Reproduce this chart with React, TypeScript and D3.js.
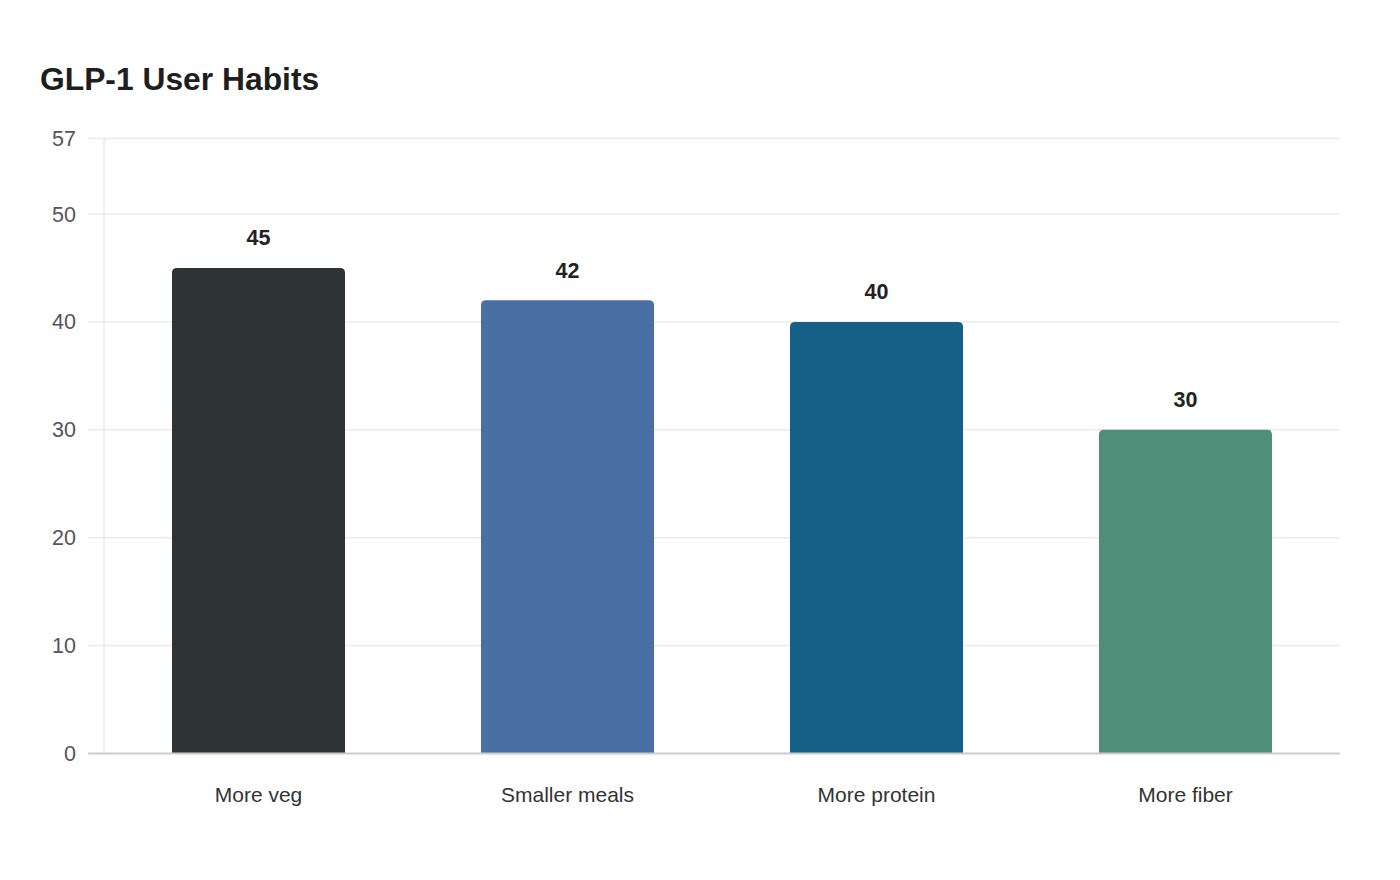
import React from 'react';
import * as d3 from 'd3';

const categories = ['More veg', 'Smaller meals', 'More protein', 'More fiber'];
const values = [45, 42, 40, 30];
const barColors = ['#2d3436', '#4a6fa5', '#166088', '#4f8f7a'];
const yTicks = [0, 10, 20, 30, 40, 50, 57];

const W = 1400;
const H = 880;
const margin = { top: 138.5, right: 60, bottom: 126.5, left: 104 };

const FONT = '"Liberation Sans", Arial, sans-serif';

// rounded top corners only
const topRoundedRect = (x: number, y: number, w: number, h: number, r: number) => {
  const rr = Math.min(r, h, w / 2);
  return `M${x},${y + h}V${y + rr}Q${x},${y} ${x + rr},${y}H${x + w - rr}Q${x + w},${y} ${x + w},${y + rr}V${y + h}Z`;
};

export default function App() {
  const x0 = margin.left;
  const x1 = W - margin.right;
  const y0 = H - margin.bottom;
  const y1 = margin.top;

  const x = d3.scaleBand<string>().domain(categories).range([x0, x1]).paddingInner(0.44).paddingOuter(0.22);
  const y = d3.scaleLinear().domain([0, 57]).range([y0, y1]);

  return (
    <div style={{ position: 'absolute', left: 0, top: 0 }}>
      <svg width={W} height={H} style={{ display: 'block', background: '#fff' }} fontFamily={FONT}>
        <text x={40} y={90} fontSize={31.8} fontWeight="bold" fill="#1e1e1e">GLP-1 User Habits</text>

        {yTicks.map(t => (
          <g key={t}>
            {t !== 0 && (
              <line x1={88} x2={x1} y1={y(t)} y2={y(t)} stroke="#ebebeb" strokeWidth={1.5} />
            )}
            <text x={76} y={y(t)} dy="0.35em" textAnchor="end" fontSize={21.5} fill="#555">{t}</text>
          </g>
        ))}

        <line x1={x0} x2={x0} y1={y1} y2={y0} stroke="#e0e0e0" strokeWidth={1} />

        {categories.map((c, i) => {
          const bx = x(c) as number;
          const bw = x.bandwidth();
          const by = y(values[i]);
          return (
            <g key={c}>
              <path d={topRoundedRect(bx, by, bw, y0 - by, 5)} fill={barColors[i]} />
              <text x={bx + bw / 2} y={by - 22.5} textAnchor="middle" fontSize={21.5} fontWeight="bold" fill="#222">{values[i]}</text>
              <text x={bx + bw / 2} y={y0 + 48} textAnchor="middle" fontSize={21} fill="#333">{c}</text>
            </g>
          );
        })}

        <line x1={88} x2={x1} y1={y0} y2={y0} stroke="#cccccc" strokeWidth={2} />
      </svg>
    </div>
  );
}
